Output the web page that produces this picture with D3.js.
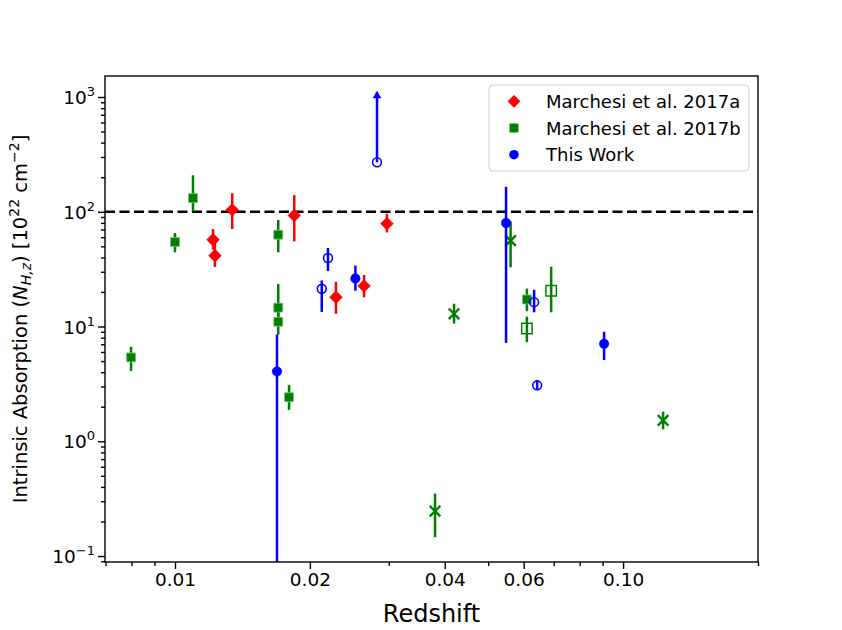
<!DOCTYPE html>
<html>
<head>
<meta charset="utf-8">
<script src="https://cdn.jsdelivr.net/npm/d3@7"></script>
<style>
  body { margin: 0; background: #fff; }
  svg { font-family: "DejaVu Sans", sans-serif; }
</style>
</head>
<body>
<svg width="842" height="630"></svg>
<script>
const width = 842;
const height = 630;
const margin = { top: 76, right: 84, bottom: 68, left: 105 };

// Marchesi et al. 2017a (diamonds)
const redZ  = [0.01216, 0.01228, 0.01342, 0.01846, 0.02287, 0.02642, 0.02972];
const redNH = [57, 41.4, 104, 92.9, 18.0, 22.6, 78.7];
const redLo = [46.8, 33.0, 70.7, 55.2, 12.9, 18.0, 66];
const redHi = [70.6, 53.4, 145, 139.7, 24.5, 28.1, 96];

// Marchesi et al. 2017b (filled squares)
const grnZ  = [0.00798, 0.0100, 0.01097, 0.0170, 0.0170, 0.0170, 0.01797, 0.0610];
const grnNH = [5.38, 54.5, 131.5, 63.1, 14.6, 11.0, 2.42, 17.2];
const grnLo = [4.1, 44.3, 100.6, 44.3, 11.5, 8.5, 1.88, 13.6];
const grnHi = [6.66, 65.3, 208, 84.7, 23.5, 14.0, 3.1, 21.4];

// open squares
const grnOpenZ  = [0.0610, 0.0691];
const grnOpenNH = [9.6, 20.5];
const grnOpenLo = [7.3, 13.3];
const grnOpenHi = [12.2, 33.2];

// crosses
const grnXZ  = [0.03805, 0.04195, 0.0561, 0.1228];
const grnXNH = [0.246, 12.9, 56, 1.52];
const grnXLo = [0.146, 10.6, 32.8, 1.27];
const grnXHi = [0.35, 15.8, 82.3, 1.81];

// This Work, filled circles
const bluZ  = [0.01689, 0.02527, 0.0548, 0.0907];
const bluNH = [4.06, 26.2, 79.8, 7.07];
const bluLo = [0.01, 20.5, 7.2, 5.1];
const bluHi = [8.5, 33.9, 165, 9.0];

// This Work, open circles (one lower limit)
const bluOpenZ   = [0.02126, 0.02195, 0.02824, 0.0633, 0.0643];
const bluOpenNH  = [21.3, 39.6, 270, 16.3, 3.07];
const bluOpenLo  = [13.4, 30.5, 270, 13.3, 2.8];
const bluOpenHi  = [25.2, 48.3, 1089, 20.9, 3.4];
const bluOpenLim = [false, false, true, false, false];

const xTicks = [0.01, 0.02, 0.04, 0.06, 0.10];
const xMinor = [0.007, 0.008, 0.009, 0.03, 0.05, 0.07, 0.08, 0.09, 0.2];
const yTicks = [0.1, 1, 10, 100, 1000];
const threshold = 100;

const legendLabels = ["Marchesi et al. 2017a", "Marchesi et al. 2017b", "This Work"];

const svg = d3.select("svg");

const x = d3.scaleLog()
  .domain([0.00698, 0.2])
  .range([margin.left, width - margin.right]);

const y = d3.scaleLog()
  .domain([0.0887, 1524])
  .range([height - margin.bottom, margin.top]);

const pack = (z, nh, lo, hi) => z.map((d, i) => ({ z: d, nh: nh[i], lo: lo[i], hi: hi[i] }));

svg.append("clipPath").attr("id", "plot")
  .append("rect")
  .attr("x", margin.left).attr("y", margin.top)
  .attr("width", width - margin.left - margin.right)
  .attr("height", height - margin.top - margin.bottom);

const plot = svg.append("g").attr("clip-path", "url(#plot)");

// threshold line
plot.append("line")
  .attr("x1", margin.left).attr("x2", width - margin.right)
  .attr("y1", y(threshold)).attr("y2", y(threshold))
  .attr("stroke", "#000").attr("stroke-width", 2.5)
  .attr("stroke-dasharray", "10,4.5");

function errorBars(data, color) {
  plot.append("g").selectAll("line")
    .data(data).join("line")
    .attr("x1", d => x(d.z)).attr("x2", d => x(d.z))
    .attr("y1", d => y(d.lo)).attr("y2", d => y(d.hi))
    .attr("stroke", color).attr("stroke-width", 2.5);
}

function symbols(data, type, size, fill, stroke, sw) {
  plot.append("g").selectAll("path")
    .data(data).join("path")
    .attr("d", d3.symbol().type(type).size(size))
    .attr("transform", d => `translate(${x(d.z)},${y(d.nh)})`)
    .attr("fill", fill)
    .attr("stroke", stroke)
    .attr("stroke-width", sw);
}

const redData = pack(redZ, redNH, redLo, redHi);
const grnData = pack(grnZ, grnNH, grnLo, grnHi);
const grnOpen = pack(grnOpenZ, grnOpenNH, grnOpenLo, grnOpenHi);
const grnX = pack(grnXZ, grnXNH, grnXLo, grnXHi);
const bluData = pack(bluZ, bluNH, bluLo, bluHi);
const bluOpen = pack(bluOpenZ, bluOpenNH, bluOpenLo, bluOpenHi)
  .map((d, i) => ({ ...d, lim: bluOpenLim[i] }));

// green
errorBars(grnData, "green");
symbols(grnData, d3.symbolSquare, 80, "green", "#7fbf7f", 0.8);
errorBars(grnOpen, "green");
symbols(grnOpen, d3.symbolSquare, 110, "none", "green", 1.5);
errorBars(grnX, "green");
symbols(grnX, d3.symbolX, 75, "none", "green", 2.4);

// red
errorBars(redData, "red");
symbols(redData, d3.symbolDiamond2, 105, "red", "red", 0.5);

// blue
errorBars(bluData, "blue");
symbols(bluData, d3.symbolCircle, 72, "blue", "blue", 0.5);
errorBars(bluOpen, "blue");
symbols(bluOpen, d3.symbolCircle, 62, "none", "blue", 1.6);

// lower-limit arrow head
plot.append("g").selectAll("path")
  .data(bluOpen.filter(d => d.lim)).join("path")
  .attr("d", d3.symbol().type(d3.symbolTriangle).size(32))
  .attr("transform", d => `translate(${x(d.z)},${y(d.hi) + 3})`)
  .attr("fill", "blue");

// axes
const tickFont = 18.5;

const xAxis = svg.append("g")
  .attr("transform", `translate(0,${height - margin.bottom})`)
  .call(d3.axisBottom(x).tickValues(xTicks).tickFormat(d3.format(".2f")).tickSize(7).tickPadding(4));
const xMinorAxis = svg.append("g")
  .attr("transform", `translate(0,${height - margin.bottom})`)
  .call(d3.axisBottom(x).tickValues(xMinor).tickFormat("").tickSize(4));

const yMinorVals = [];
[0.01, 0.1, 1, 10, 100, 1000].forEach(b => {
  for (let k = 2; k <= 9; k++) yMinorVals.push(b * k);
});
const yMinor = yMinorVals.filter(v => v > 0.0887 && v < 1524);

const yAxis = svg.append("g")
  .attr("transform", `translate(${margin.left},0)`)
  .call(d3.axisLeft(y).tickValues(yTicks).tickFormat("").tickSize(7));
const yMinorAxis = svg.append("g")
  .attr("transform", `translate(${margin.left},0)`)
  .call(d3.axisLeft(y).tickValues(yMinor).tickFormat("").tickSize(4));

[xAxis, xMinorAxis, yAxis, yMinorAxis].forEach(g => {
  g.select(".domain").remove();
  g.selectAll(".tick line").attr("stroke", "#000").attr("stroke-width", 1.4);
});
xAxis.selectAll(".tick text")
  .attr("font-size", tickFont).attr("fill", "#000")
  .attr("font-family", "DejaVu Sans");

// y tick labels as 10^n
const yLab = svg.append("g");
yTicks.forEach(v => {
  const t = yLab.append("text")
    .attr("x", margin.left - 10)
    .attr("y", y(v) + 7)
    .attr("text-anchor", "end")
    .attr("font-size", tickFont);
  t.append("tspan").text("10");
  t.append("tspan").attr("dy", -8).attr("font-size", 13)
    .text(d3.format("d")(Math.log10(v)).replace("-", "\u2212"));
});

// frame
svg.append("rect")
  .attr("x", margin.left).attr("y", margin.top)
  .attr("width", width - margin.left - margin.right)
  .attr("height", height - margin.top - margin.bottom)
  .attr("fill", "none").attr("stroke", "#000").attr("stroke-width", 1.4);

// axis labels
svg.append("text")
  .attr("x", (margin.left + width - margin.right) / 2)
  .attr("y", 622)
  .attr("text-anchor", "middle")
  .attr("font-size", 24)
  .text("Redshift");

const yl = svg.append("text")
  .attr("transform", `translate(27,${(margin.top + height - margin.bottom) / 2}) rotate(-90)`)
  .attr("text-anchor", "middle")
  .attr("font-size", 19.5);
yl.append("tspan").text("Intrinsic Absorption (");
yl.append("tspan").attr("font-style", "italic").text("N");
yl.append("tspan").attr("font-style", "italic").attr("font-size", 14).attr("dy", 4).text("H,z");
yl.append("tspan").attr("dy", -4).text(") [10");
yl.append("tspan").attr("font-size", 14).attr("dy", -8).text("22");
yl.append("tspan").attr("dy", 8).text(" cm");
yl.append("tspan").attr("font-size", 14).attr("dy", -8).text("\u22122");
yl.append("tspan").attr("dy", 8).text("]");

// legend
const legend = svg.append("g").attr("transform", "translate(489,85)");
legend.append("rect")
  .attr("width", 260).attr("height", 86).attr("rx", 4)
  .attr("fill", "white").attr("fill-opacity", 0.8)
  .attr("stroke", "#cccccc").attr("stroke-width", 1);

const legendSym = [
  { type: d3.symbolDiamond2, size: 105, fill: "red" },
  { type: d3.symbolSquare, size: 80, fill: "green" },
  { type: d3.symbolCircle, size: 72, fill: "blue" }
];

legendLabels.forEach((label, i) => {
  const row = legend.append("g").attr("transform", `translate(25,${16.3 + i * 26.7})`);
  row.append("path")
    .attr("d", d3.symbol().type(legendSym[i].type).size(legendSym[i].size))
    .attr("fill", legendSym[i].fill);
  row.append("text")
    .attr("x", 32).attr("y", 6.5)
    .attr("font-size", 18)
    .text(label);
});
</script>
</body>
</html>
